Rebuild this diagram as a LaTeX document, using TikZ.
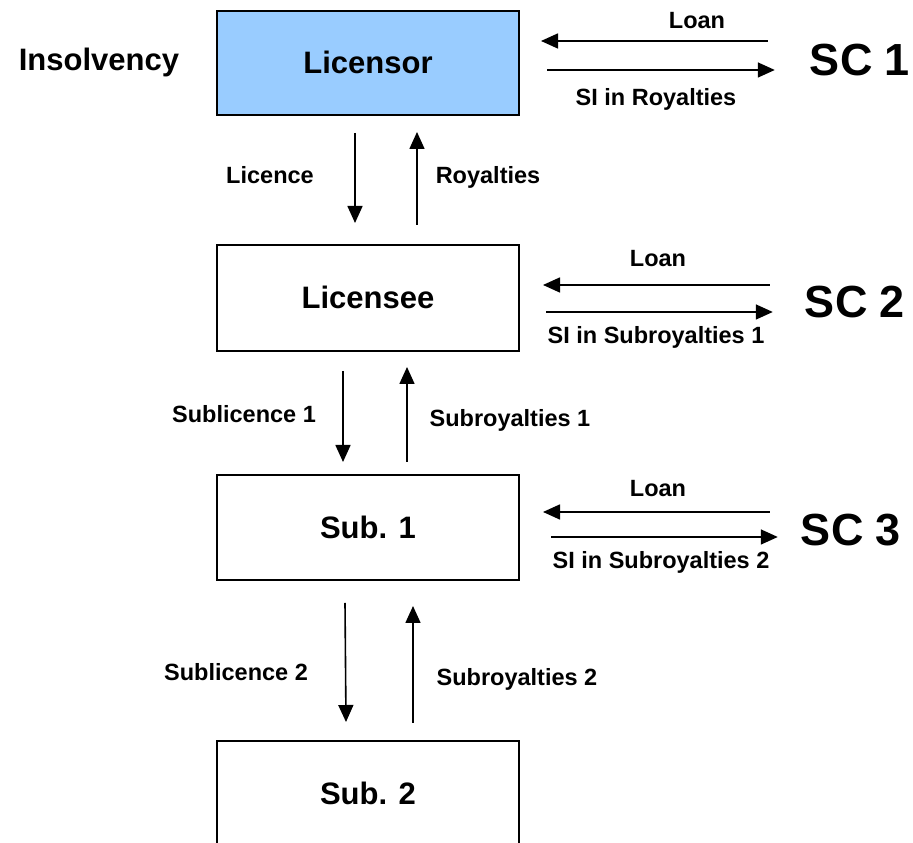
\documentclass[tikz,border=0pt]{standalone}
\usepackage{fontspec}
\setmainfont{Liberation Sans}
\usetikzlibrary{arrows.meta}
\definecolor{skyblue}{HTML}{99CCFF}
\tikzset{party/.style={draw=black,line width=2pt,minimum width=302pt,minimum height=105pt,
  inner sep=0pt,font=\fontsize{31}{34}\selectfont\bfseries,text height=22pt,text depth=0pt},
  lbl/.style={inner sep=0pt,font=\fontsize{23.5}{26}\selectfont\bfseries,text height=17pt,text depth=0pt},
  sclbl/.style={inner sep=0pt,font=\fontsize{45}{50}\selectfont\bfseries,text height=32pt,text depth=0pt},
  arr/.style={-{Triangle[length=17pt,width=15pt]},line width=1.6pt}}

\begin{document}
\begin{tikzpicture}[x=1pt,y=1pt]
\clip (0,0) rectangle (913,843);
% parties
\node[party,fill=skyblue,minimum height=104pt] (licensor) at (368,780){Licensor};
\node[party,minimum height=106pt] (licensee) at (368,545){Licensee};
\node[party] (sub1) at (368,315.5){Sub. 1};
\node[party,minimum height=106pt] (sub2) at (368,49){Sub. 2};
\node[party,draw=none,minimum width=0pt,minimum height=0pt] (insolv) at (99,783){Insolvency};
% secured creditors
\node[sclbl] (sc1) at (860,783){SC 1};
\node[sclbl] (sc2) at (855,541){SC 2};
\node[sclbl] (sc3) at (851,313){SC 3};
% licence chain
\draw[arr] ([xshift=-13pt,yshift=-17pt]licensor.south)--([xshift=-13pt,yshift=21pt]licensee.north);
\draw[arr] ([xshift=49pt,yshift=19pt]licensee.north)--([xshift=49pt,yshift=-16pt]licensor.south);
\draw[arr] ([xshift=-25pt,yshift=-19pt]licensee.south)--([xshift=-25pt,yshift=12pt]sub1.north);
\draw[arr] ([xshift=39pt,yshift=12pt]sub1.north)--([xshift=39pt,yshift=-15pt]licensee.south);
\draw[arr] ([xshift=-23pt,yshift=-22pt]sub1.south)--([xshift=-22pt,yshift=18pt]sub2.north);
\draw[arr] ([xshift=45pt,yshift=17pt]sub2.north)--([xshift=45pt,yshift=-25pt]sub1.south);
\node[lbl] (licence) at (270,668){Licence};
\node[lbl] (royalties) at (488,668){Royalties};
\node[lbl] (sublic1) at (244,429){Sublicence 1};
\node[lbl] (subroy1) at (510,425){Subroyalties 1};
\node[lbl] (sublic2) at (236,171){Sublicence 2};
\node[lbl] (subroy2) at (517,166){Subroyalties 2};
% loans and security interests
\draw[arr] ([xshift=-42pt,yshift=19pt]sc1.west)--([xshift=21pt,yshift=22pt]licensor.east);
\draw[arr] ([xshift=27pt,yshift=-7pt]licensor.east)--([xshift=-35pt,yshift=-10pt]sc1.west);
\draw[arr] ([xshift=-35pt,yshift=17pt]sc2.west)--([xshift=23pt,yshift=13pt]licensee.east);
\draw[arr] ([xshift=26pt,yshift=-14pt]licensee.east)--([xshift=-32pt,yshift=-10pt]sc2.west);
\draw[arr] ([xshift=-31pt,yshift=18pt]sc3.west)--([xshift=23pt,yshift=15.5pt]sub1.east);
\draw[arr] ([xshift=31pt,yshift=-9.5pt]sub1.east)--([xshift=-23pt,yshift=-7pt]sc3.west);
\node[lbl] (loan1) at (697,823){Loan};
\node[lbl] (si1) at (656,746){SI in Royalties};
\node[lbl] (loan2) at (658,585){Loan};
\node[lbl] (si2) at (656,508){SI in Subroyalties 1};
\node[lbl] (loan3) at (658,355){Loan};
\node[lbl] (si3) at (661,283){SI in Subroyalties 2};
\end{tikzpicture}
\end{document}
